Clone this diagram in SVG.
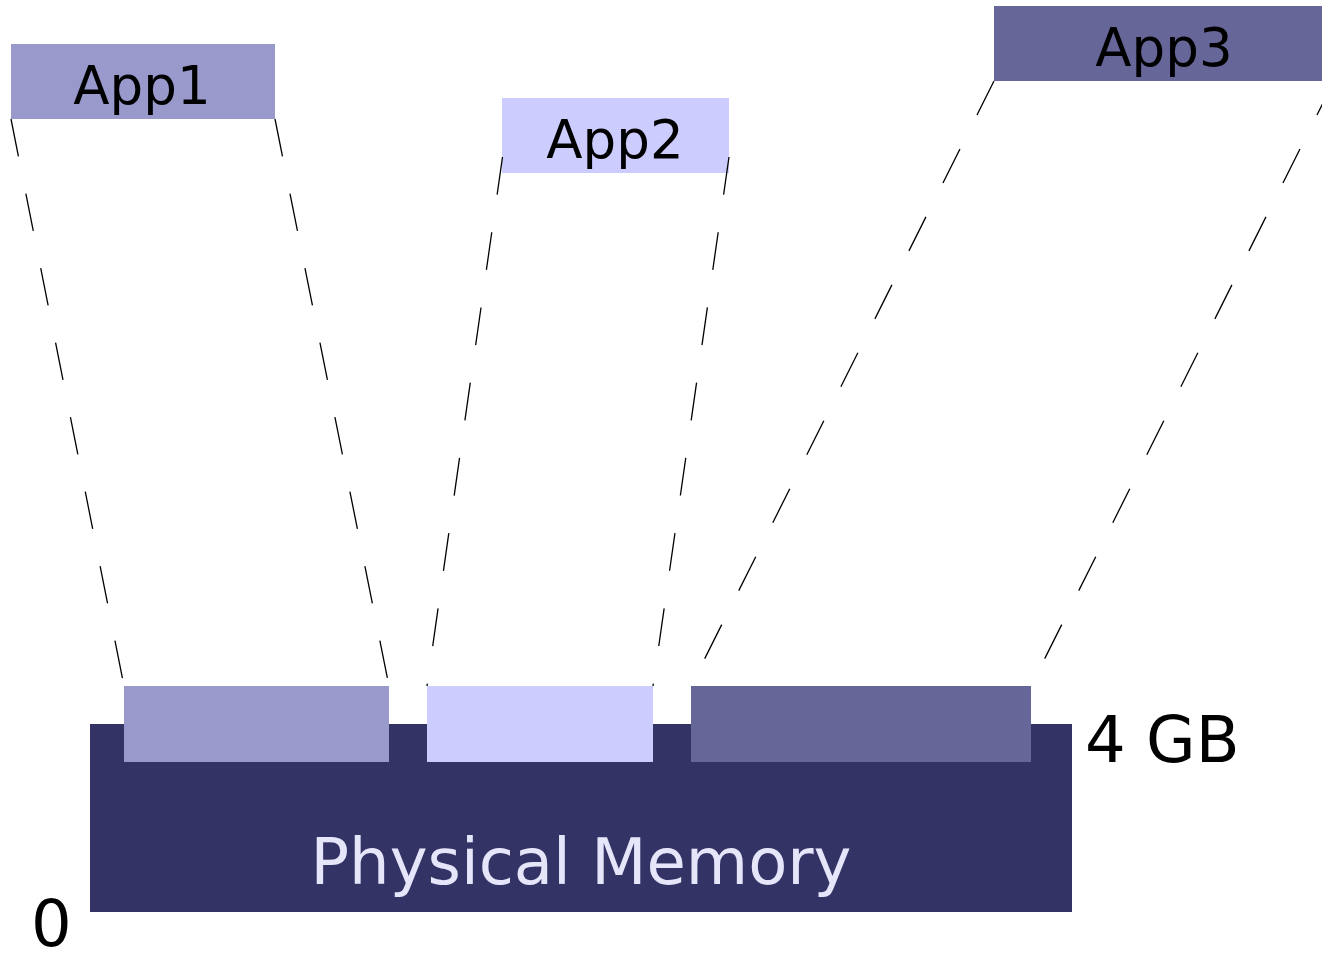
<svg xmlns="http://www.w3.org/2000/svg" width="1322" height="953" viewBox="0 0 1322 953">
<style>
.lbl{font-family:"DejaVu Sans","Verdana",sans-serif;fill:#000}
.app{font-size:53px;text-anchor:middle}
.big{font-size:64px}
.conn line{stroke:#000;stroke-width:1.3;stroke-dasharray:38 38;fill:none}
.c1{fill:#9999cc}
.c2{fill:#ccccff}
.c3{fill:#666699}
.mem{fill:#333366}
</style>
<rect width="1322" height="953" fill="#fff"/>
<g id="memory">
<rect class="mem" x="90" y="724" width="982" height="188"/>
<text class="lbl big" x="581" y="884" text-anchor="middle" style="fill:#e6e6fa">Physical Memory</text>
</g>
<g id="block1"><rect class="c1" x="124" y="686" width="265" height="76"/></g>
<g id="block2"><rect class="c2" x="427" y="686" width="226" height="76"/></g>
<g id="block3"><rect class="c3" x="691" y="686" width="340" height="76"/></g>
<g id="app1"><rect class="c1" x="11" y="44" width="264" height="75"/><text class="lbl app" x="142" y="104">App1</text></g>
<g id="app2"><rect class="c2" x="502" y="98" width="227" height="75"/><text class="lbl app" x="615" y="158">App2</text></g>
<g id="app3"><rect class="c3" x="994" y="6" width="340" height="75"/><text class="lbl app" x="1164" y="66">App3</text></g>
<g id="connectors" class="conn">
<line x1="11" y1="119" x2="124" y2="686"/>
<line x1="275" y1="119" x2="389" y2="686"/>
<line x1="502.5" y1="157" x2="427" y2="686"/>
<line x1="729" y1="157" x2="653" y2="686"/>
<line x1="994" y1="81" x2="691" y2="686"/>
<line x1="1334" y1="81" x2="1031" y2="686"/>
</g>
<g id="labels">
<text class="lbl big" x="1085" y="762">4 GB</text>
<text class="lbl big" x="31" y="946">0</text>
</g>
</svg>
